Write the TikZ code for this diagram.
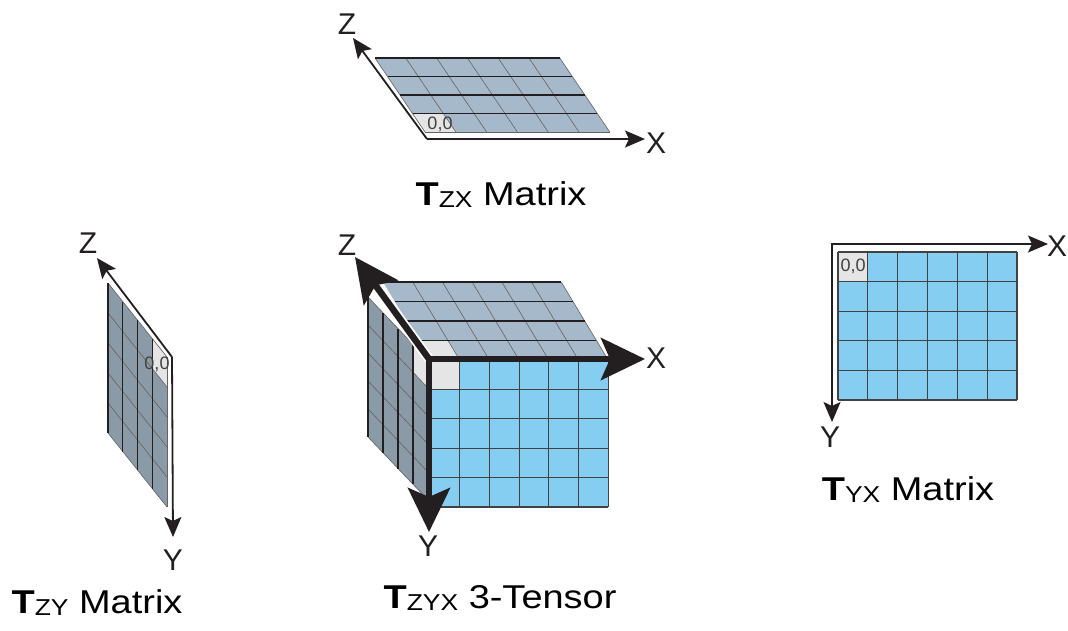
\documentclass[tikz,border=0pt]{standalone}
\usepackage{fontspec}
\setmainfont{Liberation Sans}
\newfontfamily\captionfont[FakeStretch=1.15]{Liberation Sans}
\usetikzlibrary{arrows.meta, calc}

\definecolor{topgrey}{HTML}{A5B9CA}
\definecolor{sidegrey}{HTML}{8A9BA7}
\definecolor{frontblue}{HTML}{86CDF2}
\definecolor{origincell}{HTML}{E5E5E5}
\definecolor{inkblack}{HTML}{231F20}

\tikzset{
  thinaxis/.style={-{Stealth[length=20pt,width=17pt,inset=4pt]}, line width=1.8pt, draw=inkblack},
  thickaxis/.style={-{Stealth[length=44pt,width=42pt,inset=9pt]}, line width=6.5pt, draw=inkblack},
  axislabel/.style={font=\fontsize{30}{30}\selectfont, text=inkblack, inner sep=0pt},
  zerolabel/.style={font=\fontsize{18}{18}\selectfont, text=inkblack!85, inner sep=0pt},
  caption/.style={font=\captionfont\fontsize{33}{33}\selectfont, text=black, inner sep=0pt, anchor=base},
  boldline/.style={draw=inkblack, line width=1.3pt},
  fineline/.style={draw=inkblack!70, line width=0.6pt},
  cellline/.style={draw=inkblack!85, line width=1.1pt},
}
\newcommand{\tensorname}[2]{\textbf{T}\raisebox{-2pt}{\fontsize{23}{23}\selectfont #1}\ #2}

\begin{document}
\begin{tikzpicture}[x=1pt, y=-1pt, >=Stealth]
\useasboundingbox (0,0) rectangle (1068,630);

% T_ZX matrix
\begin{scope}[shift={(425,132)}, x={(30.8pt,0pt)}, y={(-12.5pt,18.5pt)}]
  \fill[topgrey] (0,0) -- (6,0) -- (6,4) -- (0,4) -- cycle;
  \fill[origincell] (0,0) -- (1,0) -- (1,1) -- (0,1) -- cycle;
  \foreach \i in {0,...,6} \draw[fineline] (\i,0) -- (\i,4);
  \draw[fineline] (0,0) -- (6,0);
  \foreach \j in {1,...,4} \draw[boldline] (0,\j) -- (6,\j);
\end{scope}
\node[zerolabel] (zxzero) at (440,124) {0,0};
\coordinate (zxo) at (427,139);
\coordinate (zxz) at (353,38);
\coordinate (zxx) at (645,139);
\draw[thinaxis] (zxo) -- (zxz);
\draw[thinaxis] (zxo) -- (zxx);
\node[axislabel] (zxzlab) at (347,24) {Z};
\node[axislabel] (zxxlab) at (656,143) {X};
\node[caption] (zxtitle) at (501,205) {\tensorname{ZX}{Matrix}};

% T_ZY matrix
\begin{scope}[shift={(167,357)}, x={(-14.75pt,18.5pt)}, y={(0pt,-30pt)}]
  \fill[sidegrey] (0,0) -- (4,0) -- (4,5) -- (0,5) -- cycle;
  \fill[origincell] (0,0) -- (1,0) -- (1,1) -- (0,1) -- cycle;
  \foreach \j in {0,...,5} \draw[fineline] (0,\j) -- (4,\j);
  \draw[fineline] (0,0) -- (0,5);
  \foreach \i in {1,...,4} \draw[boldline] (\i,0) -- (\i,5);
\end{scope}
\node[zerolabel] (zyzero) at (157,364) {0,0};
\coordinate (zyo) at (172,357);
\coordinate (zyz) at (97,258);
\coordinate (zyy) at (173,537);
\draw[thinaxis] (zyo) -- (zyz);
\draw[thinaxis] (zyo) -- (zyy);
\node[axislabel] (zyzlab) at (88,243) {Z};
\node[axislabel] (zyylab) at (173,560) {Y};
\node[caption] (zytitle) at (97,613) {\tensorname{ZY}{Matrix}};

% T_ZYX tensor: side, top, front
\begin{scope}[shift={(428,360)}, x={(-15pt,15.75pt)}, y={(0pt,-28pt)}]
  \fill[sidegrey] (0,0) -- (4,0) -- (4,5) -- (0,5) -- cycle;
  \fill[origincell] (0,0) -- (1,0) -- (1,1) -- (0,1) -- cycle;
  \foreach \j in {0,...,5} \draw[fineline] (0,\j) -- (4,\j);
  \foreach \i in {1,...,4} \draw[boldline] (\i,0) -- (\i,5);
\end{scope}
\begin{scope}[shift={(430,360)}, x={(29.7pt,0pt)}, y={(-11.75pt,19.5pt)}]
  \fill[topgrey] (0,0) -- (6,0) -- (6,4) -- (0,4) -- cycle;
  \fill[origincell] (0,0) -- (1,0) -- (1,1) -- (0,1) -- cycle;
  \foreach \i in {1,...,6} \draw[fineline] (\i,0) -- (\i,4);
  \foreach \j in {1,...,4} \draw[boldline] (0,\j) -- (6,\j);
\end{scope}
\begin{scope}[shift={(430,360)}, x={(29.7pt,0pt)}, y={(0pt,-29.4pt)}]
  \fill[frontblue] (0,0) rectangle (6,5);
  \fill[origincell] (0,0) rectangle (1,1);
  \foreach \i in {0,...,6} \draw[cellline] (\i,0) -- (\i,5);
  \foreach \j in {0,...,5} \draw[cellline] (0,\j) -- (6,\j);
\end{scope}
\coordinate (cubeo) at (429,359);
\coordinate (cubez) at (355,257);
\coordinate (cubex) at (645,359);
\coordinate (cubey) at (429,532);
\draw[white, line width=10pt] (cubeo) -- ($(cubeo)!0.7!(cubez)$);
\draw[thickaxis] (cubeo) -- (cubez);
\draw[thickaxis, line cap=rect] (cubeo) -- (cubex);
\draw[thickaxis, line cap=rect] (cubeo) -- (cubey);
\node[axislabel] (cubezlab) at (347,245) {Z};
\node[axislabel] (cubexlab) at (656,358) {X};
\node[axislabel] (cubeylab) at (428,546) {Y};
\node[caption] (cubetitle) at (500,608) {\tensorname{ZYX}{3-Tensor}};

% T_YX matrix
\begin{scope}[shift={(838,252)}, x={(29.83pt,0pt)}, y={(0pt,-29.6pt)}]
  \fill[frontblue] (0,0) rectangle (6,5);
  \fill[origincell] (0,0) rectangle (1,1);
  \foreach \i in {0,...,6} \draw[cellline] (\i,0) -- (\i,5);
  \foreach \j in {0,...,5} \draw[cellline] (0,\j) -- (6,\j);
\end{scope}
\node[zerolabel] (yxzero) at (853,266) {0,0};
\coordinate (yxo) at (832,244);
\coordinate (yxx) at (1048,244);
\coordinate (yxy) at (832,422);
\draw[thinaxis, line cap=rect] (yxo) -- (yxx);
\draw[thinaxis, line cap=rect] (yxo) -- (yxy);
\node[axislabel] (yxxlab) at (1057,246) {X};
\node[axislabel] (yxylab) at (830,437) {Y};
\node[caption] (yxtitle) at (908,500) {\tensorname{YX}{Matrix}};
\end{tikzpicture}
\end{document}
